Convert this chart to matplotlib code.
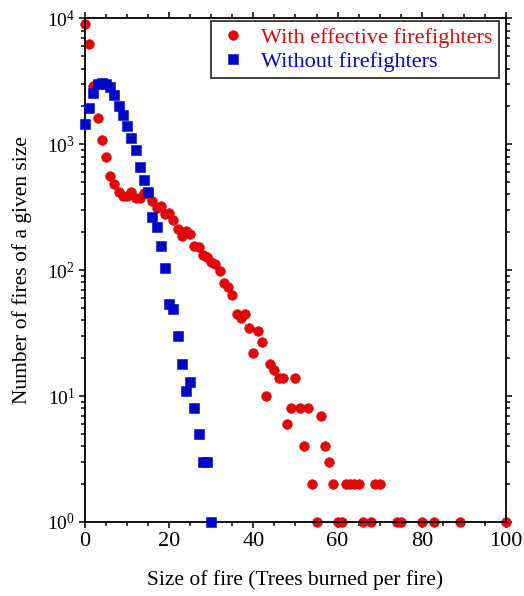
import matplotlib
matplotlib.use("Agg")
import matplotlib.pyplot as plt
from matplotlib.ticker import LogLocator, MultipleLocator, NullFormatter

plt.rcParams['font.family'] = ['Liberation Serif', 'DejaVu Serif']
plt.rcParams['mathtext.fontset'] = 'custom'
plt.rcParams['mathtext.rm'] = 'Liberation Serif'
plt.rcParams['mathtext.it'] = 'Liberation Serif:italic'

# With effective firefighters (red circles)
red_x = [0, 1, 2, 3, 4, 5, 6, 7, 8, 9, 10, 11, 12, 13, 14, 15, 16, 17, 18, 19,
         20, 21, 22, 23, 24, 25, 26, 27, 28, 29, 30, 31, 32, 33, 34, 35, 36, 37,
         38, 39, 40, 41, 42, 43, 44, 45, 46, 47, 48, 49, 50, 51, 52, 53, 54, 55,
         56, 57, 58, 59, 60, 61, 62, 63, 64, 65, 66, 68, 69, 70, 74, 75, 80, 83,
         89, 100]
red_y = [9100, 6250, 2930, 1620, 1090, 795, 557, 485, 416, 386, 386, 416, 375, 375,
         411, 400, 352, 314, 321, 280, 285, 249, 213, 186, 204, 194, 155, 152, 133,
         127, 117, 113, 98, 79, 74, 64, 45, 42, 45, 35, 22, 33, 27, 10, 18, 16, 14,
         14, 6, 8, 14, 8, 4, 8, 2, 1, 7, 4, 3, 2, 1, 1, 2, 2, 2, 2, 1, 1, 2, 2, 1,
         1, 1, 1, 1, 1]

# Without firefighters (blue squares)
blue_x = list(range(0, 31))
blue_y = [1455, 1950, 2570, 3030, 3100, 3030, 2860, 2450, 2000, 1700, 1390, 1120,
          900, 661, 517, 419, 265, 221, 155, 104, 54, 49, 30, 18, 11, 13, 8, 5, 3,
          3, 1]

red_c = '#e00808'
blue_c = '#0008c8'

fig = plt.figure(figsize=(5.24, 5.96), dpi=100)
ax = fig.add_axes([0.1622, 0.1242, 0.8034, 0.8448])

ax.plot(blue_x, blue_y, linestyle='none', marker='s', markersize=7.2,
        color=blue_c, markeredgewidth=0.4, label='Without firefighters',
        zorder=3, clip_on=False)
ax.plot(red_x, red_y, linestyle='none', marker='o', markersize=7.0,
        color=red_c, markeredgewidth=0.4, label='With effective firefighters',
        zorder=2, clip_on=False)

ax.set_yscale('log')
ax.set_xlim(0, 100)
ax.set_ylim(1, 1e4)

ax.xaxis.set_major_locator(MultipleLocator(20))
ax.xaxis.set_minor_locator(MultipleLocator(5))
ax.yaxis.set_major_locator(LogLocator(base=10, numticks=10))
ax.yaxis.set_minor_locator(LogLocator(base=10, subs=range(2, 10), numticks=20))
ax.yaxis.set_minor_formatter(NullFormatter())

ax.tick_params(which='both', direction='out', top=True, right=True,
               labeltop=False, labelright=False, width=1.1)
ax.tick_params(axis='x', labelsize=16, pad=3)
ax.tick_params(axis='y', labelsize=14, pad=3)
ax.tick_params(which='major', length=4)
ax.tick_params(which='minor', length=2.8)
for s in ax.spines.values():
    s.set_linewidth(1.3)

ax.set_xlabel('Size of fire (Trees burned per fire)', fontsize=15.5, labelpad=14)
ax.set_ylabel('Number of fires of a given size', fontsize=15.5, labelpad=11)

h, l = ax.get_legend_handles_labels()
leg = ax.legend([h[1], h[0]], [l[1], l[0]], loc='upper right',
                bbox_to_anchor=(0.983, 0.995), borderaxespad=0, fontsize=16,
                frameon=True, fancybox=False, edgecolor='black',
                handletextpad=0.5, borderpad=0.28, labelspacing=0.15,
                handlelength=1.5)
leg.get_frame().set_linewidth(1.3)
for t, c in zip(leg.get_texts(), [red_c, blue_c]):
    t.set_color(c)

fig.savefig('out.png', dpi=100)
